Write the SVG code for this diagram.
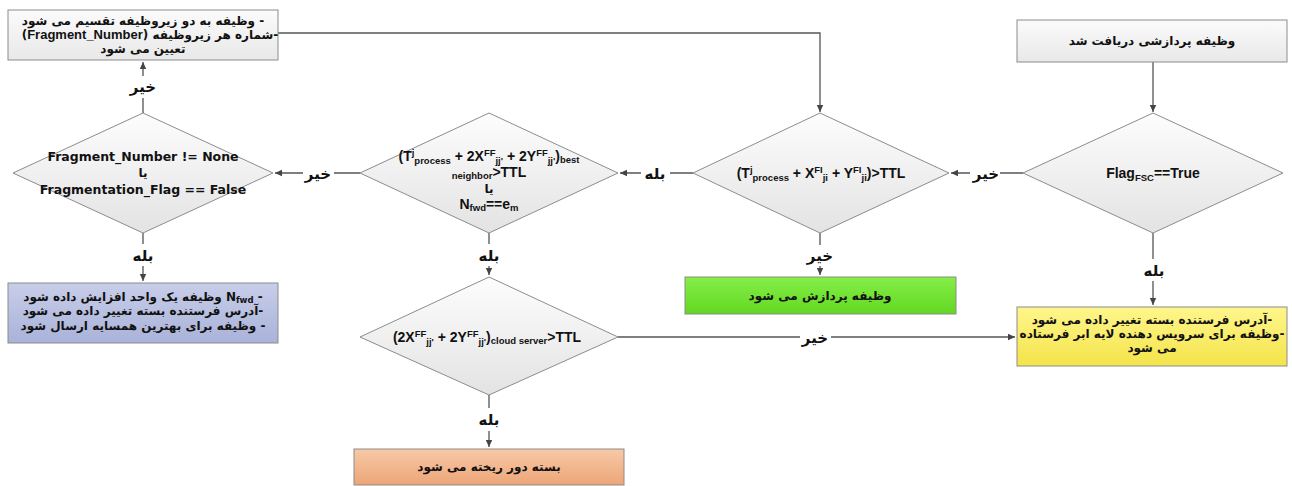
<svg xmlns="http://www.w3.org/2000/svg" width="1292" height="486" viewBox="0 0 1292 486">
<defs>
<linearGradient id="gBox" x1="0" y1="0" x2="0" y2="1"><stop offset="0" stop-color="#fbfbfb"/><stop offset="1" stop-color="#e8e8e8"/></linearGradient>
<linearGradient id="gDia" x1="0" y1="0" x2="0" y2="1"><stop offset="0" stop-color="#fdfdfd"/><stop offset="1" stop-color="#e3e3e3"/></linearGradient>
<linearGradient id="gBlue" x1="0" y1="0" x2="0" y2="1"><stop offset="0" stop-color="#c8cee9"/><stop offset="1" stop-color="#a9b2d9"/></linearGradient>
<linearGradient id="gGreen" x1="0" y1="0" x2="0" y2="1"><stop offset="0" stop-color="#86ee48"/><stop offset="1" stop-color="#62d822"/></linearGradient>
<linearGradient id="gYellow" x1="0" y1="0" x2="0" y2="1"><stop offset="0" stop-color="#fff68c"/><stop offset="1" stop-color="#f4e34a"/></linearGradient>
<linearGradient id="gOrange" x1="0" y1="0" x2="0" y2="1"><stop offset="0" stop-color="#f7c9a6"/><stop offset="1" stop-color="#eda578"/></linearGradient>
<marker id="arr" markerWidth="8" markerHeight="8" refX="7" refY="4" orient="auto" markerUnits="userSpaceOnUse">
<path d="M0,0.8 L7,4 L0,7.2 Z" fill="#444"/>
</marker>
</defs>
<style>
.shape{stroke:#8c8c8c;stroke-width:1}
.fa{font-family:"DejaVu Sans",sans-serif;font-weight:bold;font-size:12px;fill:#111;text-anchor:middle}
.rtl{direction:rtl;unicode-bidi:embed}
.lat{font-family:"DejaVu Sans",sans-serif;font-weight:bold;font-size:12.5px;fill:#111;text-anchor:middle}
.f{font-family:"Liberation Sans",Arial,sans-serif;font-weight:bold;font-size:14px;fill:#111;text-anchor:middle}
.s{font-size:9.5px}
.lbl{font-family:"DejaVu Sans",sans-serif;font-weight:bold;font-size:15px;fill:#111;text-anchor:middle;direction:rtl;unicode-bidi:embed}
.ln{fill:none;stroke:#555;stroke-width:1.3}
</style>

<g id="connectors">
<path class="ln" d="M1153,62 V112" marker-end="url(#arr)"/>
<path class="ln" d="M1023,173 H1000 M970,173 H951" marker-end="url(#arr)"/>
<path class="ln" d="M1153,233 V259 M1153,281 V305" marker-end="url(#arr)"/>
<path class="ln" d="M820,233 V245 M820,266 V275" marker-end="url(#arr)"/>
<path class="ln" d="M693,173 H670 M641,173 H620" marker-end="url(#arr)"/>
<path class="ln" d="M360,173 H334 M303,173 H275" marker-end="url(#arr)"/>
<path class="ln" d="M489,233 V244 M489,266 V275" marker-end="url(#arr)"/>
<path class="ln" d="M618,337 H800 M831,337 H1015" marker-end="url(#arr)"/>
<path class="ln" d="M489,395 V408 M489,431 V447" marker-end="url(#arr)"/>
<path class="ln" d="M143,233 V244 M143,266 V281" marker-end="url(#arr)"/>
<path class="ln" d="M143,113 V98 M143,76 V62" marker-end="url(#arr)"/>
<path class="ln" d="M278,33 H820 V112" marker-end="url(#arr)"/>
<text class="lbl" x="986" y="179">خیر</text>
<text class="lbl" x="1154" y="276">بله</text>
<text class="lbl" x="820" y="261">خیر</text>
<text class="lbl" x="655" y="179">بله</text>
<text class="lbl" x="318" y="179">خیر</text>
<text class="lbl" x="489" y="261">بله</text>
<text class="lbl" x="815" y="343">خیر</text>
<text class="lbl" x="489" y="425">بله</text>
<text class="lbl" x="143" y="261">بله</text>
<text class="lbl" x="143" y="92">خیر</text>
</g>

<g id="n_receive">
<rect class="shape" x="1017" y="20" width="270" height="42" fill="url(#gBox)"/>
<text class="fa rtl" x="1152" y="45">وظیفه پردازشی دریافت شد</text>
</g>

<g id="n_flag">
<polygon class="shape" points="1153,113 1283,173 1153,233 1023,173" fill="url(#gDia)"/>
<text class="f" x="1153" y="178">Flag<tspan class="s" dy="3">FSC</tspan><tspan dy="-3">==True</tspan></text>
</g>

<g id="n_local">
<polygon class="shape" points="820,113 949,173 820,233 693,173" fill="url(#gDia)"/>
<text class="f" x="821" y="178">(T<tspan class="s" dy="-5">j</tspan><tspan class="s" dy="8">process</tspan><tspan dy="-3"> + X</tspan><tspan class="s" dy="-5">FI</tspan><tspan class="s" dy="8">ji</tspan><tspan dy="-3"> + Y</tspan><tspan class="s" dy="-5">FI</tspan><tspan class="s" dy="8">ji</tspan><tspan dy="-3">)&gt;TTL</tspan></text>
</g>

<g id="n_neighbor">
<polygon class="shape" points="489,113 618,173 489,233 360,173" fill="url(#gDia)"/>
<text class="f" x="489" y="161">(T<tspan class="s" dy="-5">j</tspan><tspan class="s" dy="8">process</tspan><tspan dy="-3"> + 2X</tspan><tspan class="s" dy="-5">FF</tspan><tspan class="s" dy="8">jj'</tspan><tspan dy="-3"> + 2Y</tspan><tspan class="s" dy="-5">FF</tspan><tspan class="s" dy="8">jj'</tspan><tspan dy="-3">)</tspan><tspan class="s" dy="2">best</tspan></text>
<text class="f" x="489" y="177"><tspan class="s" dy="2">neighbor</tspan><tspan dy="-2">&gt;TTL</tspan></text>
<text class="fa rtl" x="489" y="193">یا</text>
<text class="f" x="489" y="209">N<tspan class="s" dy="2">fwd</tspan><tspan dy="-2">==e</tspan><tspan class="s" dy="2">m</tspan></text>
</g>

<g id="n_fragcheck">
<polygon class="shape" points="143,113 273,173 143,233 13,173" fill="url(#gDia)"/>
<text class="lat" x="143" y="161">Fragment_Number != None</text>
<text class="fa rtl" x="143" y="177">یا</text>
<text class="lat" x="143" y="194">Fragmentation_Flag == False</text>
</g>

<g id="n_split">
<rect class="shape" x="8" y="10" width="270" height="50" fill="url(#gBox)"/>
<text class="fa rtl" x="143" y="25">- وظیفه به دو زیروظیفه تقسیم می شود</text>
<text class="fa rtl" x="150" y="39">-شماره هر زیروظیفه (<tspan font-family="Liberation Sans, Arial, sans-serif" font-size="13px">Fragment_Number</tspan>)</text>
<text class="fa rtl" x="143" y="53">تعیین می شود</text>
</g>

<g id="n_forward">
<rect class="shape" x="8" y="283" width="270" height="60" fill="url(#gBlue)"/>
<text class="fa rtl" x="143" y="301">- N<tspan font-size="8.5px" dy="2">fwd</tspan><tspan dy="-2"> وظیفه یک واحد افزایش داده شود</tspan></text>
<text class="fa rtl" x="143" y="315">-آدرس فرستنده بسته تغییر داده می شود</text>
<text class="fa rtl" x="143" y="330">- وظیفه برای بهترین همسایه ارسال شود</text>
</g>

<g id="n_process">
<rect class="shape" x="685" y="277" width="271" height="37" fill="url(#gGreen)"/>
<text class="fa rtl" x="820" y="300">وظیفه پردازش می شود</text>
</g>

<g id="n_cloudcheck">
<polygon class="shape" points="489,277 618,337 489,395 360,337" fill="url(#gDia)"/>
<text class="f" x="487" y="342">(2X<tspan class="s" dy="-5">FF</tspan><tspan class="s" dy="8">jj'</tspan><tspan dy="-3"> + 2Y</tspan><tspan class="s" dy="-5">FF</tspan><tspan class="s" dy="8">jj'</tspan><tspan dy="-3">)</tspan><tspan class="s" dy="2">cloud server</tspan><tspan dy="-2">&gt;TTL</tspan></text>
</g>

<g id="n_cloud">
<rect class="shape" x="1017" y="307" width="270" height="59" fill="url(#gYellow)"/>
<text class="fa rtl" x="1152" y="324">-آدرس فرستنده بسته تغییر داده می شود</text>
<text class="fa rtl" x="1152" y="338">-وظیفه برای سرویس دهنده لایه ابر فرستاده</text>
<text class="fa rtl" x="1152" y="352">می شود</text>
</g>

<g id="n_drop">
<rect class="shape" x="354" y="449" width="270" height="36" fill="url(#gOrange)"/>
<text class="fa rtl" x="489" y="471">بسته دور ریخته می شود</text>
</g>
</svg>
